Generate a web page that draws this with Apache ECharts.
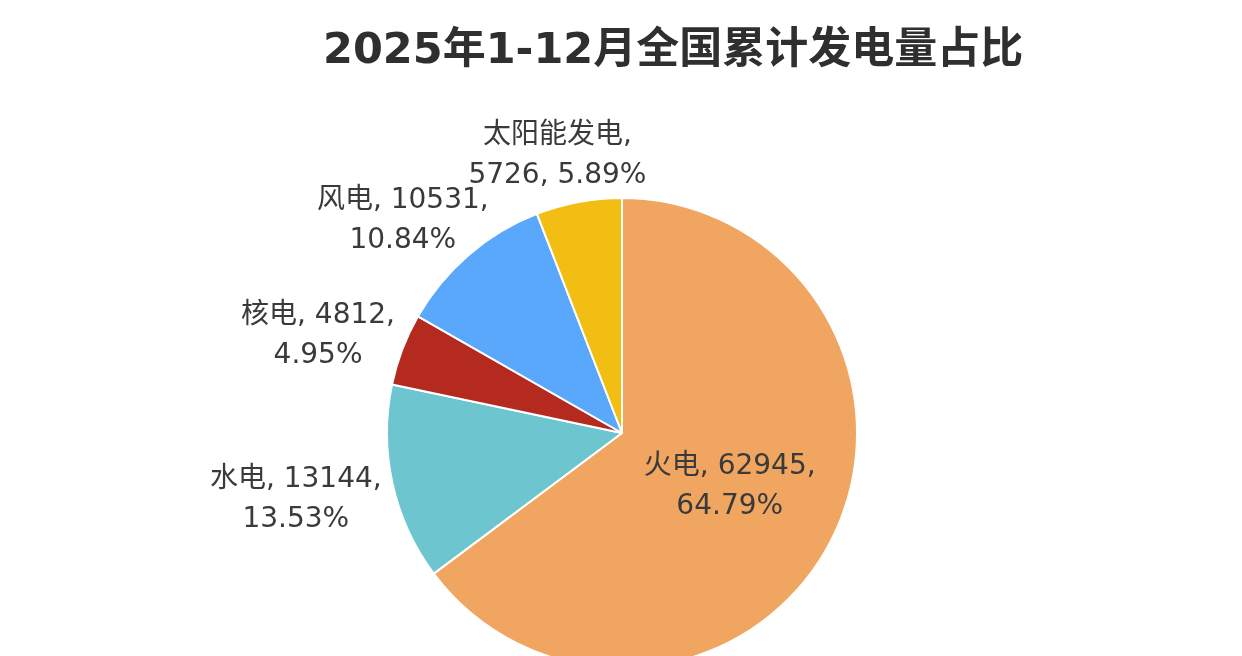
<!DOCTYPE html>
<html>
<head>
<meta charset="utf-8">
<style>
  html, body { margin: 0; padding: 0; background: #ffffff; }
  #chart { width: 1242px; height: 656px; }
</style>
<script src="https://cdn.jsdelivr.net/npm/echarts@6/dist/echarts.min.js"></script>
</head>
<body>
<div id="chart"></div>
<script>
// 2025年1-12月发电量（亿千瓦时）
const names = ['火电', '水电', '核电', '风电', '太阳能发电'];
const values = [62945, 13144, 4812, 10531, 5726];
const colors = ['#F0A561', '#6DC5CF', '#B52A1F', '#5AA8FB', '#F3BE14'];

const CENTER = [622, 433];
const labelFont = "'DejaVu Sans', 'Noto Sans CJK SC', sans-serif";

const chart = echarts.init(document.getElementById('chart'));

const data = names.map((name, i) => {
	const item = {
		name: name,
		value: values[i],
		itemStyle: { color: colors[i] }
	};
	if (i === 0) {
		item.label = { position: 'inside' };
	}
	return item;
});

chart.setOption({
	backgroundColor: '#ffffff',
	title: {
		text: '2025年1-12月全国累计发电量占比',
		left: 318,
		top: 25,
		textStyle: {
			fontFamily: "'DejaVu Sans', 'Noto Sans CJK SC', sans-serif",
			fontSize: 43,
			fontWeight: 'bold',
			color: '#2f2f2f'
		}
	},
	series: [{
		type: 'pie',
		center: CENTER,
		radius: 235,
		startAngle: 90,
		clockwise: true,
		percentPrecision: 2,
		avoidLabelOverlap: false,
		animation: false,
		itemStyle: {
			borderColor: '#ffffff',
			borderWidth: 2
		},
		label: {
			show: true,
			position: 'outside',
			fontFamily: labelFont,
			fontSize: 28,
			lineHeight: 40,
			color: '#3a3a3a',
			formatter: function (p) {
				if (p.name === '太阳能发电') {
					return p.name + ',\n' + p.value + ', ' + p.percent.toFixed(2) + '%';
				}
				return p.name + ', ' + p.value + ',\n' + p.percent.toFixed(2) + '%';
			}
		},
		labelLine: {
			show: false,
			length: 12,
			length2: 0
		},
		// Excel 式外侧标签：整块居中，沿径向向外推开
		labelLayout: function (p) {
			if (p.dataIndex === 0) {
				return {};
			}
			const r = p.labelRect;
			const ax = p.align === 'right' ? r.x + r.width : r.x;
			const ay = r.y + r.height / 2;
			const vx = ax - CENTER[0];
			const vy = ay - CENTER[1];
			const len = Math.sqrt(vx * vx + vy * vy);
			return {
				align: 'center',
				verticalAlign: 'middle',
				dx: vx / len * r.width / 2 + 4,
				dy: vy / len * r.height / 2 + 5
			};
		},
		data: data
	}]
});
</script>
</body>
</html>
